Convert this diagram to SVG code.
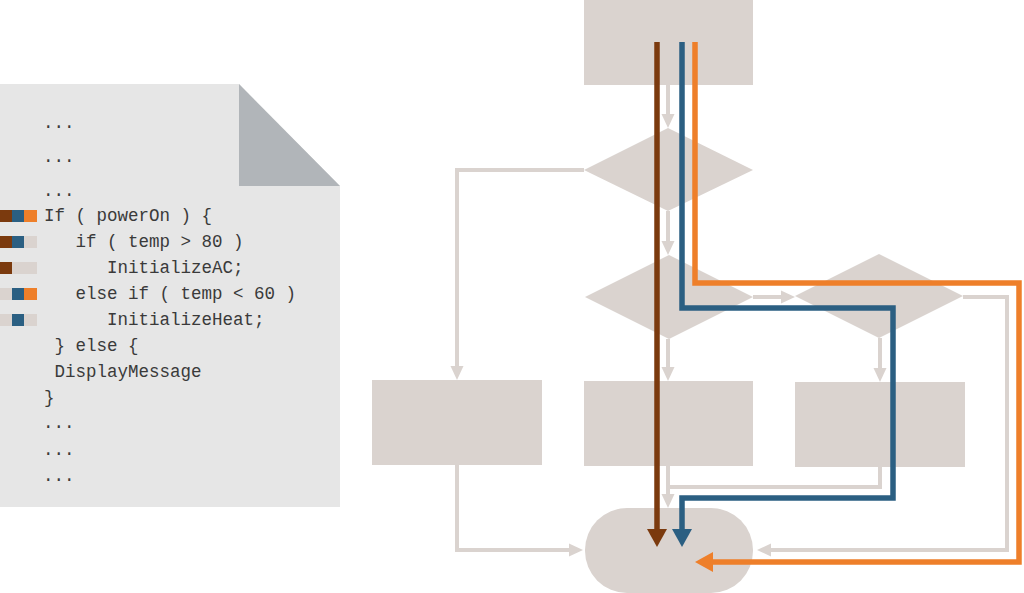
<svg xmlns="http://www.w3.org/2000/svg" width="1024" height="593" viewBox="0 0 1024 593">
<style>
.node{fill:#dad3cf}
.lc{fill:none;stroke:#dad3cf;stroke-width:4;marker-end:url(#la)}
.lcn{fill:none;stroke:#dad3cf;stroke-width:4}
.cp{fill:none;stroke-width:5.5;stroke-linejoin:miter}
.code{font-family:"Liberation Mono","Courier New",monospace;font-size:17.5px;fill:#3a3a3a}
.br{fill:#7b3a0e}.bl{fill:#2b5f82}.or{fill:#ee7f2a}.lg{fill:#dad3cf}
</style>
<defs>
<marker id="la" markerUnits="userSpaceOnUse" markerWidth="14" markerHeight="14" viewBox="0 0 14 14" refX="3" refY="7" orient="auto"><path d="M0,0.5 L14,7 L0,13.5 z" fill="#dad3cf"/></marker>
<marker id="abr" markerUnits="userSpaceOnUse" markerWidth="18" markerHeight="20" viewBox="0 0 18 20" refX="4" refY="10" orient="auto"><path d="M0,0 L18,10 L0,20 z" fill="#7b3a0e"/></marker>
<marker id="abl" markerUnits="userSpaceOnUse" markerWidth="18" markerHeight="20" viewBox="0 0 18 20" refX="4" refY="10" orient="auto"><path d="M0,0 L18,10 L0,20 z" fill="#2b5f82"/></marker>
<marker id="aor" markerUnits="userSpaceOnUse" markerWidth="18" markerHeight="20" viewBox="0 0 18 20" refX="4" refY="10" orient="auto"><path d="M0,0 L18,10 L0,20 z" fill="#ee7f2a"/></marker>
</defs>
<rect width="1024" height="593" fill="#ffffff"/>

<g id="document">
<polygon points="0,84 239,84 340,186 340,507 0,507" fill="#e6e6e6"/>
<polygon points="239,84 239,186 340,186" fill="#b1b5b9"/>
<g class="code">
<text x="43" y="128">...</text>
<text x="43" y="162">...</text>
<text x="43" y="196">...</text>
<text x="44" y="221">If ( powerOn ) {</text>
<text x="75.5" y="247">if ( temp &gt; 80 )</text>
<text x="107" y="273">InitializeAC;</text>
<text x="75.5" y="299">else if ( temp &lt; 60 )</text>
<text x="107" y="325">InitializeHeat;</text>
<text x="54.5" y="351">} else {</text>
<text x="54.5" y="377">DisplayMessage</text>
<text x="44" y="403">}</text>
<text x="43" y="428">...</text>
<text x="43" y="455">...</text>
<text x="43" y="481">...</text>
</g>
<g id="trace-marks">
<rect class="br" x="0" y="210" width="12" height="12"/><rect class="bl" x="12" y="210" width="12" height="12"/><rect class="or" x="24" y="210" width="13" height="12"/>
<rect class="br" x="0" y="236" width="12" height="12"/><rect class="bl" x="12" y="236" width="12" height="12"/><rect class="lg" x="24" y="236" width="13" height="12"/>
<rect class="br" x="0" y="262" width="12" height="12"/><rect class="lg" x="12" y="262" width="12" height="12"/><rect class="lg" x="24" y="262" width="13" height="12"/>
<rect class="lg" x="0" y="288" width="12" height="12"/><rect class="bl" x="12" y="288" width="12" height="12"/><rect class="or" x="24" y="288" width="13" height="12"/>
<rect class="lg" x="0" y="314" width="12" height="12"/><rect class="bl" x="12" y="314" width="12" height="12"/><rect class="lg" x="24" y="314" width="13" height="12"/>
</g>
</g>

<g id="start"><rect class="node" x="584" y="0" width="169" height="85"/></g>
<g id="decision1"><polygon class="node" points="668,128 753,170 668,211 584,170"/></g>
<g id="decision2"><polygon class="node" points="669,255 753,297 669,339 585,297"/></g>
<g id="decision3"><polygon class="node" points="879,254 963,296 879,338 795,296"/></g>
<g id="process-left"><rect class="node" x="372" y="380" width="170" height="85"/></g>
<g id="process-mid"><rect class="node" x="584" y="381" width="169" height="85"/></g>
<g id="process-right"><rect class="node" x="795" y="382" width="170" height="85"/></g>
<g id="end"><rect class="node" x="585" y="508" width="168" height="85" rx="42" ry="42"/></g>

<g id="connectors">
<path class="lc" d="M668,85 V117"/>
<path class="lc" d="M584,170 H457 V369"/>
<path class="lc" d="M668,211 V244"/>
<path class="lc" d="M753,297 H784"/>
<path class="lc" d="M668,339 V370"/>
<path class="lc" d="M880,338 V371"/>
<path class="lc" d="M457,465 V550 H572"/>
<path class="lcn" d="M880,467 V487 H668"/>
<path class="lc" d="M668,466 V497"/>
<path class="lc" d="M963,297 H1007 V550 H768"/>
</g>

<g id="trace-paths">
<path class="cp" stroke="#7b3a0e" marker-end="url(#abr)" d="M657,42 V533"/>
<path class="cp" stroke="#2b5f82" marker-end="url(#abl)" d="M682,42 V308 H893 V498 H682 V533"/>
<path class="cp" stroke="#ee7f2a" marker-end="url(#aor)" d="M695,42 V283 H1019 V562 H709"/>
</g>
</svg>
